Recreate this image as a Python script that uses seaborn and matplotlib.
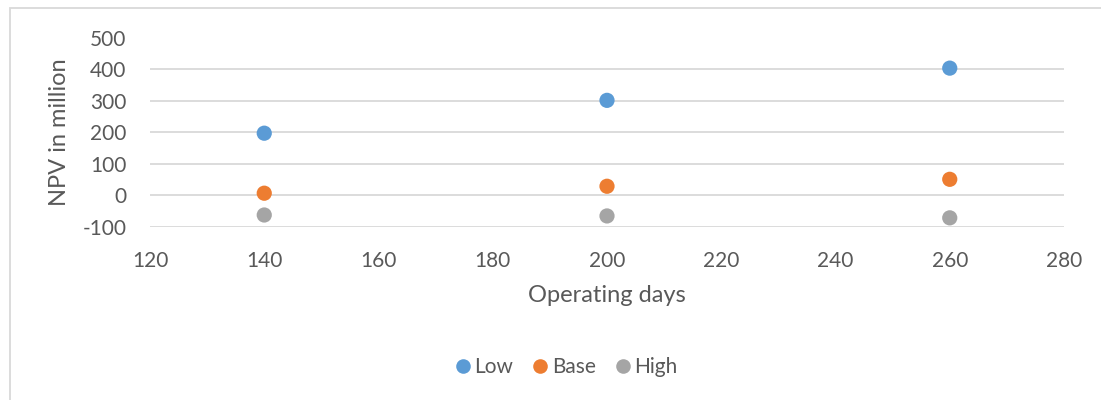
import matplotlib
matplotlib.use("Agg")
import matplotlib.pyplot as plt
import seaborn as sns
import pandas as pd
from matplotlib.patches import Rectangle

# Operating days and NPV (million) per price scenario
days = [140, 200, 260]
npv_low = [197, 301, 403]
npv_base = [7, 29, 51]
npv_high = [-62, -65, -71]
scenarios = ["Low", "Base", "High"]
colors = ["#5B9BD5", "#ED7D31", "#A5A5A5"]

df = pd.DataFrame({
    "days": days * 3,
    "npv": npv_low + npv_base + npv_high,
    "scenario": [s for s in scenarios for _ in days],
})

sns.set_theme(style="white")
plt.rcParams["font.family"] = ["Lato", "DejaVu Sans"]
plt.rcParams["axes.unicode_minus"] = False
text_color = "#595959"

fig = plt.figure(figsize=(11.01, 4.0), dpi=100)
W, H = 1101, 400
ax = fig.add_axes([150 / W, (H - 227) / H, (1064 - 150) / W, (227 - 37.5) / H])

# outer chart frame
fig.patches.append(Rectangle((10 / W, -0.1), 1.2, (H - 8) / H + 0.1,
                             transform=fig.transFigure, fill=False,
                             edgecolor="#d9d9d9", linewidth=1.3))

sns.scatterplot(data=df, x="days", y="npv", hue="scenario",
                hue_order=scenarios, palette=colors, s=120,
                edgecolor="none", ax=ax, legend=False, zorder=3)

ax.set_xlim(120, 280)
ax.set_ylim(-100, 500)
ax.set_xticks(range(120, 281, 20))
ax.set_yticks(range(-100, 501, 100))
ax.grid(axis="y", color="#d9d9d9", linewidth=1.3)
ax.grid(axis="x", visible=False)
for sp in ax.spines.values():
    sp.set_visible(False)
ax.tick_params(axis="x", length=0, pad=17, labelsize=15, labelcolor=text_color)
ax.tick_params(axis="y", length=0, pad=17, labelsize=15, labelcolor=text_color)

ax.set_xlabel("Operating days", fontsize=17, color=text_color, labelpad=10)
ax.set_ylabel("NPV in million", fontsize=17, color=text_color, labelpad=9)

handles = [plt.Line2D([], [], marker="o", linestyle="none", markersize=10.5,
                      markerfacecolor=c, markeredgecolor="none") for c in colors]
fig.legend(handles, scenarios, loc="center", bbox_to_anchor=(565 / W, (H - 367) / H),
           ncol=3, frameon=False, fontsize=15, handletextpad=0.05,
           columnspacing=0.8, labelcolor=text_color, handlelength=1.0)

fig.savefig("out.png", dpi=100, facecolor="white")
